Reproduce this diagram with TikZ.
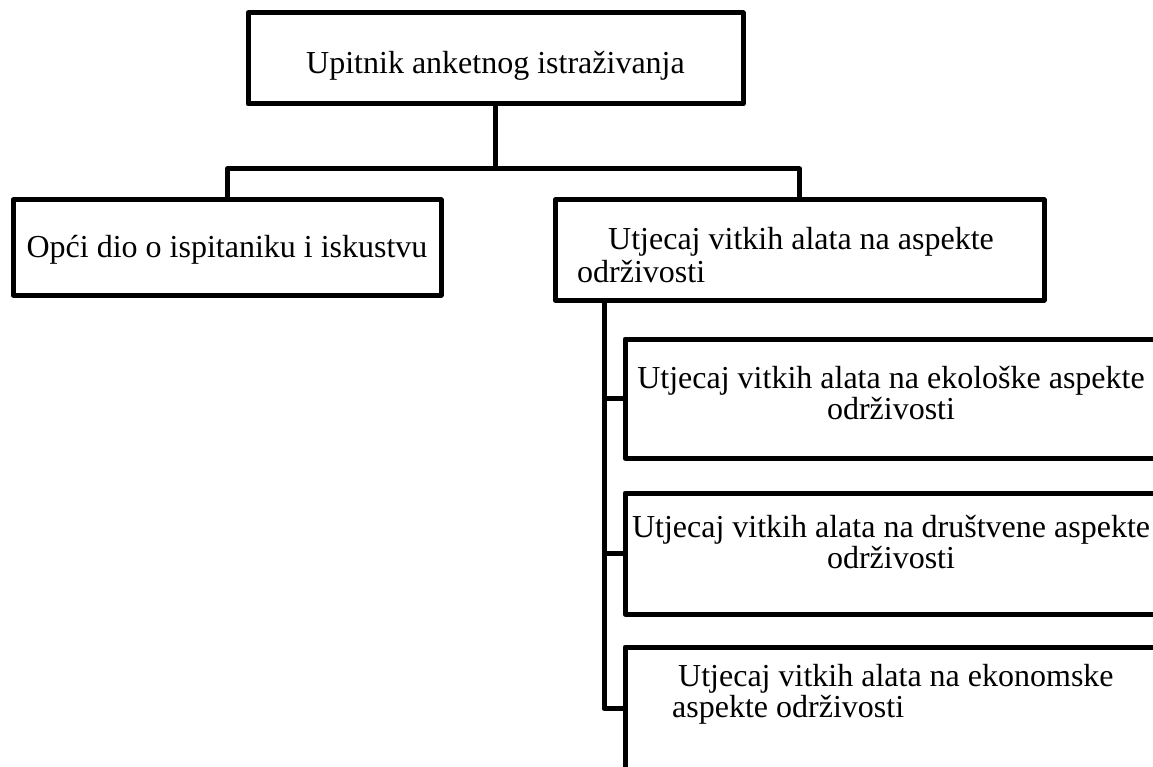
\documentclass[tikz,border=0pt]{standalone}
\usepackage{fontspec}
\setmainfont{Liberation Serif}
\begin{document}
\begin{tikzpicture}[x=1pt,y=-1pt,
  box/.style={draw=black, line width=5pt, line join=round, inner sep=0pt, fill=none},
  conn/.style={draw=black, line width=5pt, line join=round},
  txt/.style={inner sep=0pt, font=\fontsize{32}{32}\selectfont, text=black}]
\useasboundingbox (0,0) rectangle (1153,767);
\clip (0,0) rectangle (1153,767);
% boxes
\node[box, minimum width=495pt, minimum height=91pt] (top) at (495.5,58.5) {};
\node[box, minimum width=428pt, minimum height=95pt] (gen) at (227,247.5) {};
\node[box, minimum width=489pt, minimum height=100pt] (asp) at (799.5,250) {};
\node[box, minimum width=537pt, minimum height=119pt] (eko) at (893.5,398.5) {};
\node[box, minimum width=537pt, minimum height=121pt] (dru) at (893.5,553.5) {};
\node[box, minimum width=537pt, minimum height=123pt] (ekn) at (893.5,708.5) {};
% connectors
\coordinate (bus) at (0,169);
\coordinate (sp) at (604,0);
\draw[conn] (top.south) -- (top.south |- bus);
\draw[conn] (gen.north) -- (gen.north |- bus) -- (asp.north |- bus) -- (asp.north);
\draw[conn] (asp.south -| sp) -- (ekn.west -| sp) -- (ekn.west);
\draw[conn] (eko.west -| sp) -- (eko.west);
\draw[conn] (dru.west -| sp) -- (dru.west);
% texts
\node[txt, anchor=base] (t0) at (495.5,74) {Upitnik anketnog istraživanja};
\node[txt, anchor=base] (t1) at (227,258) {Opći dio o ispitaniku i iskustvu};
\node[txt, anchor=base west] (t2a) at (608,250) {Utjecaj vitkih alata na aspekte};
\node[txt, anchor=base west] (t2b) at (577,282) {održivosti};
\node[txt, anchor=base] (t3a) at (891,388) {Utjecaj vitkih alata na ekološke aspekte};
\node[txt, anchor=base] (t3b) at (891,419) {održivosti};
\node[txt, anchor=base] (t4a) at (891,537) {Utjecaj vitkih alata na društvene aspekte};
\node[txt, anchor=base] (t4b) at (891,568) {održivosti};
\node[txt, anchor=base west] (t5a) at (678,686) {Utjecaj vitkih alata na ekonomske};
\node[txt, anchor=base west] (t5b) at (672,717) {aspekte održivosti};
\end{tikzpicture}
\end{document}
